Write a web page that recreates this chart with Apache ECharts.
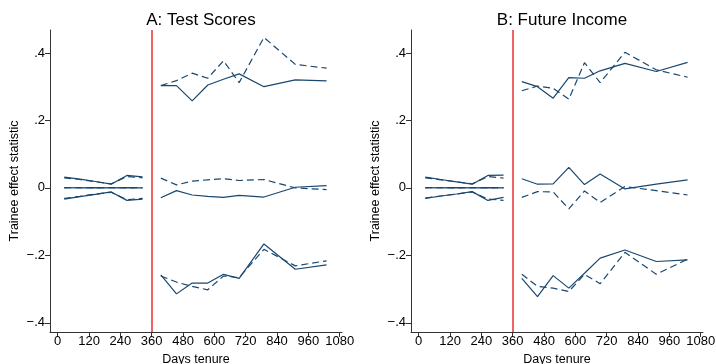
<!DOCTYPE html>
<html>
<head>
<meta charset="utf-8">
<script src="https://cdn.jsdelivr.net/npm/echarts@6/dist/echarts.min.js"></script>
<style>
  html, body { margin: 0; padding: 0; background: #fff; }
  #chart { width: 716px; height: 364px; }
</style>
</head>
<body>
<div id="chart"></div>
<script>
// 横轴：培训前后的天数
const preDays = [25, 85, 145, 205, 265, 325]
const postDays = [395, 455, 515, 575, 635, 695, 790, 910, 1030]
const xTicks = [0, 120, 240, 360, 480, 600, 720, 840, 960, 1080]
const yTicks = [-0.4, -0.2, 0, 0.2, 0.4]
const panelTitles = ['A: Test Scores', 'B: Future Income']

// A: Test Scores —— 培训前
const preTopSolidA = [0.032, 0.026, 0.019, 0.011, 0.037, 0.033]
const preTopDashA = [0.030, 0.025, 0.018, 0.012, 0.034, 0.030]
const preMidSolidA = [0.001, 0.000, 0.001, 0.000, 0.001, 0.000]
const preMidDashA = [0.000, 0.001, 0.000, 0.001, 0.000, 0.001]
const preLowSolidA = [-0.033, -0.026, -0.019, -0.012, -0.037, -0.033]
const preLowDashA = [-0.031, -0.025, -0.018, -0.013, -0.035, -0.031]
// A: Test Scores —— 培训后
const postTopSolidA = [0.303, 0.303, 0.258, 0.305, 0.322, 0.338, 0.300, 0.320, 0.317]
const postTopDashA = [0.303, 0.318, 0.340, 0.325, 0.377, 0.312, 0.446, 0.366, 0.355]
const postMidSolidA = [-0.029, -0.008, -0.021, -0.025, -0.028, -0.022, -0.027, 0.002, 0.007]
const postMidDashA = [0.029, 0.009, 0.020, 0.024, 0.027, 0.022, 0.025, 0.000, -0.005]
const postLowSolidA = [-0.258, -0.314, -0.282, -0.282, -0.256, -0.268, -0.166, -0.241, -0.228]
const postLowDashA = [-0.261, -0.279, -0.292, -0.302, -0.261, -0.266, -0.182, -0.231, -0.216]

// B: Future Income —— 培训前
const preTopSolidB = [0.032, 0.025, 0.018, 0.011, 0.037, 0.038]
const preTopDashB = [0.030, 0.024, 0.018, 0.012, 0.034, 0.029]
const preMidSolidB = [0.001, 0.000, 0.001, 0.000, 0.001, 0.000]
const preMidDashB = [0.000, 0.001, 0.000, 0.001, 0.000, 0.001]
const preLowSolidB = [-0.031, -0.024, -0.018, -0.011, -0.037, -0.028]
const preLowDashB = [-0.030, -0.024, -0.018, -0.012, -0.033, -0.037]
// B: Future Income —— 培训后
const postTopSolidB = [0.315, 0.300, 0.266, 0.327, 0.325, 0.347, 0.369, 0.345, 0.372]
const postTopDashB = [0.288, 0.302, 0.295, 0.263, 0.371, 0.312, 0.402, 0.350, 0.328]
const postMidSolidB = [0.027, 0.011, 0.012, 0.061, 0.010, 0.041, -0.003, 0.011, 0.024]
const postMidDashB = [-0.028, -0.011, -0.012, -0.062, -0.009, -0.043, 0.004, -0.008, -0.021]
const postLowSolidB = [-0.268, -0.322, -0.260, -0.297, -0.253, -0.208, -0.184, -0.218, -0.213]
const postLowDashB = [-0.256, -0.292, -0.297, -0.307, -0.256, -0.284, -0.191, -0.256, -0.211]

const navy = '#1a476f'
const font = 'Liberation Sans, Arial, Helvetica, sans-serif'

// 培训前 + 断点 + 培训后，拼成一条线
function joinLine(preVals, postVals) {
  const pre = preDays.map((d, i) => [d, preVals[i]])
  const post = postDays.map((d, i) => [d, postVals[i]])
  return pre.concat([[360, '-']], post)
}

function yLabel(v) {
  if (v === 0) return '0'
  return (v < 0 ? '\u2212' : '') + String(Math.abs(v)).replace(/^0/, '')
}

function makeLine(panel, data, dashed, withRedLine) {
  const s = {
    type: 'line',
    xAxisIndex: panel,
    yAxisIndex: panel,
    data: data,
    showSymbol: false,
    symbol: 'none',
    connectNulls: false,
    silent: true,
    animation: false,
    lineStyle: { color: navy, width: 1.2, type: dashed ? [7, 4] : 'solid' }
  }
  if (withRedLine) {
    s.markLine = {
      silent: true,
      symbol: ['none', 'none'],
      label: { show: false },
      lineStyle: { color: '#f06464', width: 2, type: 'solid' },
      data: [{ xAxis: 360 }]
    }
  }
  return s
}

const panels = [
  [
    [preTopSolidA, postTopSolidA, false], [preMidSolidA, postMidSolidA, false], [preLowSolidA, postLowSolidA, false],
    [preTopDashA, postTopDashA, true], [preMidDashA, postMidDashA, true], [preLowDashA, postLowDashA, true]
  ],
  [
    [preTopSolidB, postTopSolidB, false], [preMidSolidB, postMidSolidB, false], [preLowSolidB, postLowSolidB, false],
    [preTopDashB, postTopDashB, true], [preMidDashB, postMidDashB, true], [preLowDashB, postLowDashB, true]
  ]
]

const series = []
panels.forEach((lines, p) => {
  lines.forEach((ln, i) => {
    series.push(makeLine(p, joinLine(ln[0], ln[1]), ln[2], i === 0))
  })
})

const gridLefts = [50, 411]

const axisLineStyle = { show: true, onZero: false, lineStyle: { color: '#333', width: 1 } }

const chart = echarts.init(document.getElementById('chart'))
chart.setOption({
  backgroundColor: '#fff',
  animation: false,
  title: panelTitles.map((t, i) => ({
    text: t,
    left: gridLefts[i] + 146,
    top: 7,
    textAlign: 'center',
    textStyle: { fontFamily: font, fontSize: 17, fontWeight: 'normal', color: '#000' }
  })),
  // v6 默认会把坐标轴文字挤进画布，这里关掉，保持固定的绘图区
  grid: gridLefts.map(l => ({
    left: l, top: 30, width: 292, height: 302,
    containLabel: false,
    outerBoundsMode: 'none'
  })),
  xAxis: gridLefts.map((l, i) => ({
    type: 'value',
    gridIndex: i,
    min: -29.5,
    max: 1089,
    name: 'Days tenure',
    nameLocation: 'middle',
    nameGap: 18,
    nameTextStyle: { fontFamily: font, fontSize: 12.5, color: '#000' },
    axisLine: axisLineStyle,
    axisTick: { show: true, length: 5, customValues: xTicks, lineStyle: { color: '#333' } },
    axisLabel: {
      customValues: xTicks,
      margin: 3,
      fontFamily: font,
      fontSize: 13,
      color: '#000',
      formatter: v => String(v)
    },
    splitLine: { show: false }
  })),
  yAxis: gridLefts.map((l, i) => ({
    type: 'value',
    gridIndex: i,
    min: -0.427,
    max: 0.468,
    name: 'Trainee effect statistic',
    nameLocation: 'middle',
    nameGap: 29,
    nameTextStyle: { fontFamily: font, fontSize: 12.5, color: '#000' },
    axisLine: axisLineStyle,
    axisTick: { show: true, length: 5, customValues: yTicks, lineStyle: { color: '#333' } },
    axisLabel: {
      customValues: yTicks,
      margin: 5,
      fontFamily: font,
      fontSize: 13,
      color: '#000',
      formatter: yLabel
    },
    splitLine: { show: false }
  })),
  series: series
})
</script>
</body>
</html>
